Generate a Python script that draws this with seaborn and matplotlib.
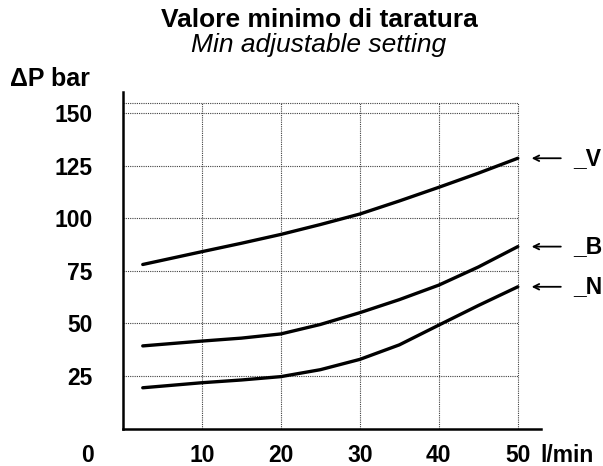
import matplotlib
matplotlib.use('Agg')
import matplotlib.pyplot as plt
import matplotlib.transforms as mtransforms
import numpy as np
import pandas as pd
import seaborn as sns

# portata (l/min)
flow = [2.5, 10, 15, 20, 25, 30, 35, 40, 45, 50]
# valore minimo di taratura (bar) per le tre molle
p_V = [78, 84.1, 88.1, 92.3, 97, 102, 108.2, 114.7, 121.4, 128.5]
p_B = [39.3, 41.6, 43, 45, 49.5, 55.1, 61.3, 68.2, 76.8, 86.5]
p_N = [19.4, 21.8, 23.1, 24.7, 28, 32.9, 39.8, 49.2, 58.5, 67.4]
curve_names = ['_V', '_B', '_N']
y_ticks = [25, 50, 75, 100, 125, 150]
x_ticks = [10, 20, 30, 40, 50]

df = pd.DataFrame({
    'flow': flow * 3,
    'dp': p_V + p_B + p_N,
    'curve': np.repeat(curve_names, len(flow)),
})

sns.set_style('white')
plt.rcParams['font.family'] = ['Liberation Sans', 'DejaVu Sans']
plt.rcParams['text.color'] = 'black'
plt.rcParams['xtick.color'] = 'black'
plt.rcParams['ytick.color'] = 'black'
plt.rcParams['axes.labelcolor'] = 'black'

fig = plt.figure(figsize=(6.03, 4.66), dpi=100)
ax = fig.add_axes([0.204, 0.0803, 0.694, 0.7223])

# griglia punteggiata (riquadro fino a 155 bar / 50 l/min)
ax.hlines(y_ticks + [155], 0, 50, colors='0.25', linestyles=(0, (1, 1)), lw=0.8)
ax.vlines(x_ticks, 0, 155, colors='0.25', linestyles=(0, (1, 1)), lw=0.8)

sns.lineplot(data=df, x='flow', y='dp', hue='curve', palette=['k'] * 3,
             lw=2.4, legend=False, ax=ax)

fs = 16.5
ax.set_xlim(0, 53)
ax.set_ylim(0, 160)
ax.set_xlabel('')
ax.set_ylabel('')
ax.set_xticks(x_ticks)
ax.set_yticks(y_ticks)
ax.tick_params(axis='both', length=0, labelsize=fs, labelcolor='black')
ax.tick_params(axis='y', pad=22)
ax.tick_params(axis='x', pad=11)
for lab in ax.get_xticklabels() + ax.get_yticklabels():
    lab.set_fontweight('bold')

for side in ['top', 'right']:
    ax.spines[side].set_visible(False)
for side in ['left', 'bottom']:
    ax.spines[side].set_color('k')
    ax.spines[side].set_linewidth(1.8)

# frecce con etichette a destra
ends = [p_V[-1], p_B[-1], p_N[-1]]
for name, yv in zip(curve_names, ends):
    ax.annotate('', xy=(51.4, yv), xytext=(55.8, yv),
                arrowprops=dict(arrowstyle='->', color='k', lw=1.3),
                annotation_clip=False)
    ax.text(57.0, yv, name, fontsize=fs, fontweight='bold',
            ha='left', va='center', clip_on=False)

trans = mtransforms.blended_transform_factory(ax.transData, ax.transAxes)
ax.annotate('l/min', xy=(52.9, 0), xycoords=trans, xytext=(0, -11),
            textcoords='offset points', fontsize=fs, fontweight='bold',
            ha='left', va='top', annotation_clip=False)

fig.text(88 / 603, 1 - 455 / 466, '0', fontsize=fs, fontweight='bold',
         ha='center', va='center')
fig.text(10 / 603, 1 - 79 / 466, '\u0394P bar', fontsize=18, fontweight='bold',
         ha='left', va='center')
fig.text(319 / 603, 1 - 20 / 466, 'Valore minimo di taratura', fontsize=19,
         fontweight='bold', ha='center', va='center')
fig.text(319 / 603, 1 - 45 / 466, 'Min adjustable setting', fontsize=19,
         fontstyle='italic', ha='center', va='center')

fig.savefig('out.png', dpi=100)
